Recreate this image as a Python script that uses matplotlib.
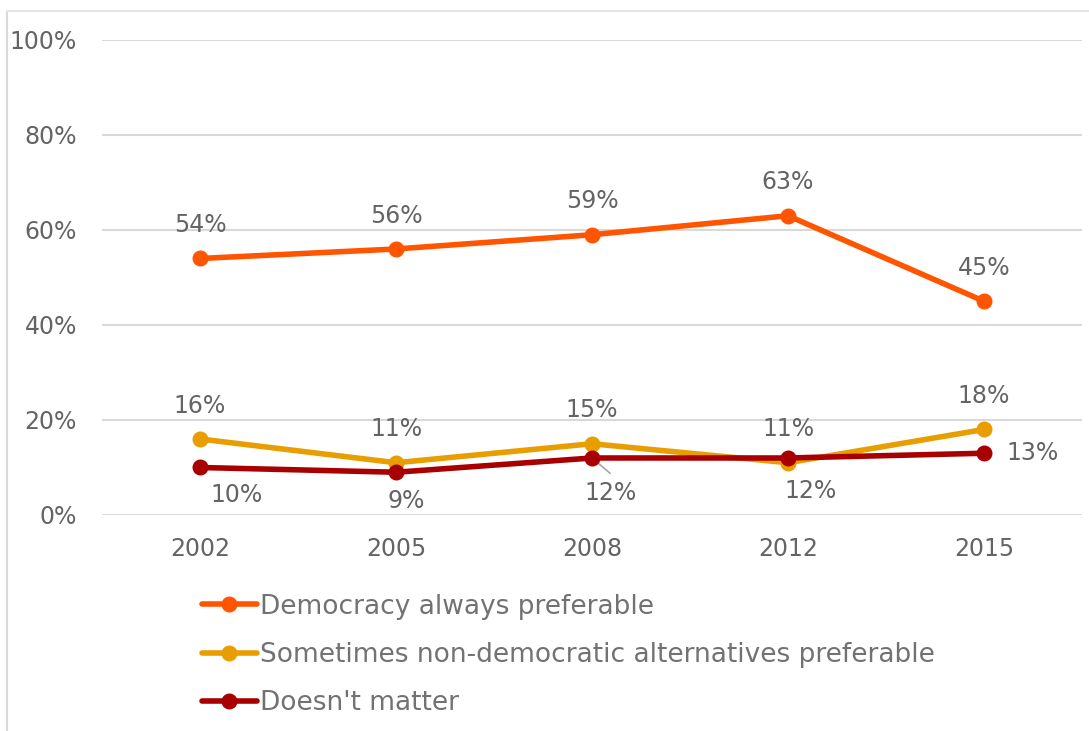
import matplotlib
matplotlib.use('Agg')
import matplotlib.pyplot as plt
from matplotlib.lines import Line2D

YEARS = ['2002', '2005', '2008', '2012', '2015']
DEMOCRACY = [54, 56, 59, 63, 45]
SOMETIMES = [16, 11, 15, 11, 18]
DOESNT_MATTER = [10, 9, 12, 12, 13]

SERIES_NAMES = [
    'Democracy always preferable',
    'Sometimes non-democratic alternatives preferable',
    "Doesn't matter",
]
COLORS = ['#FF5500', '#E89E00', '#A80000']
TEXT_GREY = '#646464'
LEGEND_GREY = '#727272'
GRID_GREY = '#D9D9D9'

# label offsets (points) per series, one per year
LABEL_OFFSETS = [
    [(0, 24)] * 5,
    [(0, 24)] * 5,
    [(26, -20), (7, -21), (13, -25), (16, -24), (35, 0)],
]


def main():
    plt.rcParams['font.family'] = ['DejaVu Sans']
    fig = plt.figure(figsize=(10.89, 7.31), dpi=100)
    ax = fig.add_axes([0.0937, 0.2955, 0.8999, 0.6498])

    # thin frame of the slide panel
    fig.add_artist(Line2D([0.0065, 0.0065], [0, 0.985], color='#D9D9D9',
                          lw=1.5, transform=fig.transFigure))
    fig.add_artist(Line2D([0.0065, 1.0], [0.985, 0.985], color='#E6E6E6',
                          lw=1.5, transform=fig.transFigure))

    x = list(range(len(YEARS)))
    all_series = [DEMOCRACY, SOMETIMES, DOESNT_MATTER]
    for vals, name, color, offsets in zip(all_series, SERIES_NAMES, COLORS, LABEL_OFFSETS):
        ax.plot(x, vals, color=color, lw=4, marker='o', markersize=10.5,
                solid_capstyle='round', label=name, zorder=3)
        for xi, v, off in zip(x, vals, offsets):
            ax.annotate(f'{v}%', (xi, v), xytext=off, textcoords='offset points',
                        ha='center', va='center', fontsize=17, color=TEXT_GREY, zorder=4)

    # leader line for the 2008 "Doesn't matter" label
    ax.annotate('', (2, DOESNT_MATTER[2]), xytext=(13, -11), textcoords='offset points',
                arrowprops=dict(arrowstyle='-', color='#A6A6A6', lw=1.2,
                                shrinkA=0, shrinkB=0), zorder=2)

    ax.set_xlim(-0.5, len(YEARS) - 0.5)
    ax.set_ylim(0, 100)
    ax.set_yticks(range(0, 101, 20))
    ax.set_yticklabels([f'{t}%' for t in range(0, 101, 20)])
    ax.set_xticks(x)
    ax.set_xticklabels(YEARS)
    ax.tick_params(axis='y', length=0, pad=18, labelsize=17, labelcolor=TEXT_GREY)
    ax.tick_params(axis='x', length=0, pad=16, labelsize=17, labelcolor=TEXT_GREY)
    ax.grid(axis='y', color=GRID_GREY, lw=1.5)
    ax.set_axisbelow(True)
    for s in ax.spines.values():
        s.set_visible(False)

    ax.legend(loc='upper left', bbox_to_anchor=(0.173, 0.206),
              bbox_transform=fig.transFigure, frameon=False, fontsize=19,
              handlelength=2.1, handletextpad=0.1, labelspacing=0.85,
              labelcolor=LEGEND_GREY, borderpad=0)

    plt.savefig('out.png', dpi=100)
    plt.close()


if __name__ == '__main__':
    main()
